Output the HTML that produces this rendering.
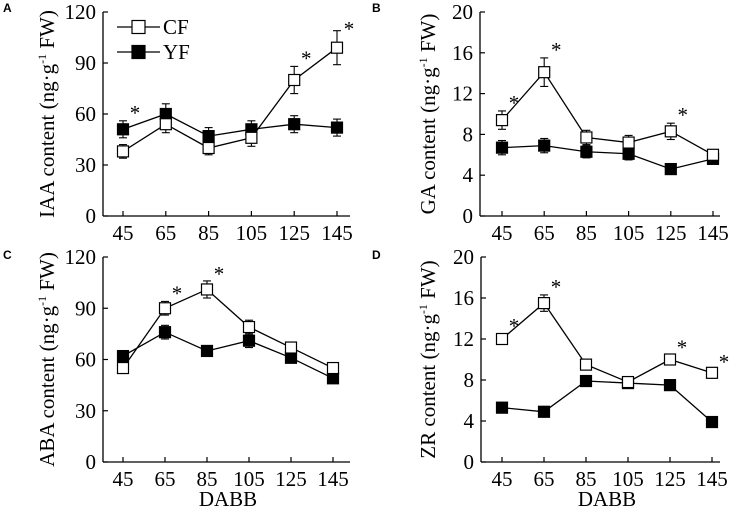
<!DOCTYPE html>
<html><head><meta charset="utf-8"><style>
html,body{margin:0;padding:0;background:#fff}
svg{display:block}
text{font-family:"Liberation Serif",serif;fill:#000}
text.plabel{font-family:"Liberation Sans",sans-serif;font-weight:bold}
</style></head><body>
<svg id="fig" width="737" height="509" viewBox="0 0 737 509"></svg>
<script>
const xCats=[45,65,85,105,125,145];
const aCF=[38,54,40,46,80,99], aCFe=[4,5,4,5,8,10];
const aYF=[51,60,47,51,54,52], aYFe=[5,6,5,5,5,5];
const bCF=[9.4,14.1,7.7,7.2,8.3,6.0], bCFe=[0.9,1.4,0.7,0.7,0.8,0.5];
const bYF=[6.7,6.9,6.3,6.1,4.6,5.6], bYFe=[0.7,0.7,0.6,0.6,0.4,0.5];
const cCF=[55,90,101,79,67,55], cCFe=[2,4,5,4,3,2];
const cYF=[62,76,65,71,61,49], cYFe=[3,4,3,4,3,2];
const dCF=[12.0,15.5,9.5,7.8,10.0,8.7], dCFe=[0.5,0.8,0.4,0.3,0.4,0.3];
const dYF=[5.3,4.9,7.9,7.7,7.5,3.9], dYFe=[0.2,0.2,0.3,0.2,0.2,0.2];
const ticksAC=[0,30,60,90,120], ticksBD=[0,4,8,12,16,20];
const starsA=[0,4,5], starsB=[0,1,4], starsC=[1,2], starsD=[0,1,4,5];
const NS='http://www.w3.org/2000/svg';
const svg=document.getElementById('fig');
function mk(tag,attrs,parent){const e=document.createElementNS(NS,tag);for(const k in attrs)e.setAttribute(k,attrs[k]);(parent||svg).appendChild(e);return e;}
const panels=[
 {id:'a',letter:'A',lx:3,ly:12,ax:103,top:12,bot:216,x0:123,x1:337,xe:350,max:120,ticks:ticksAC,cf:aCF,cfe:aCFe,yf:aYF,yfe:aYFe,stars:starsA,title:'IAA content (ng·g',tx:47,dabb:false,legend:true},
 {id:'b',letter:'B',lx:372,ly:12,ax:480,top:12,bot:216,x0:502,x1:713,xe:720,max:20,ticks:ticksBD,cf:bCF,cfe:bCFe,yf:bYF,yfe:bYFe,stars:starsB,title:'GA content (ng·g',tx:428,dabb:false},
 {id:'c',letter:'C',lx:3,ly:259,ax:103,top:257,bot:462,x0:123,x1:333,xe:350,max:120,ticks:ticksAC,cf:cCF,cfe:cCFe,yf:cYF,yfe:cYFe,stars:starsC,title:'ABA content (ng·g',tx:47,dabb:true},
 {id:'d',letter:'D',lx:372,ly:259,ax:481,top:257,bot:462,x0:502,x1:712,xe:720,max:20,ticks:ticksBD,cf:dCF,cfe:dCFe,yf:dYF,yfe:dYFe,stars:starsD,title:'ZR content (ng·g',tx:428,dabb:true}
];
panels.forEach(p=>{
 const g=mk('g',{});
 
 
 const X=i=>p.x0+(p.x1-p.x0)*i/(xCats.length-1);
 const Y=v=>p.bot-(p.bot-p.top)*v/p.max;
 const L=mk('text',{x:p.lx,y:p.ly,'class':'plabel','font-size':'12'},g);
 L.textContent=p.letter;
 
 
 const ya=mk('line',{x1:p.ax,y1:p.top,x2:p.ax,y2:p.bot,stroke:'#000','stroke-width':1.3},g);
 
 
 const xa=mk('line',{x1:p.ax,y1:p.bot,x2:p.xe,y2:p.bot,stroke:'#000','stroke-width':1.3},g);
 
 
 p.ticks.forEach(t=>{
  mk('line',{x1:p.ax,y1:Y(t),x2:p.ax+5,y2:Y(t),stroke:'#000','stroke-width':1.2},g);
  const tl=mk('text',{x:p.ax-7,y:Y(t)+7,'text-anchor':'end','font-size':'21'},g);
  tl.textContent=t;
  
  
 });
 xCats.forEach((c,i)=>{
  mk('line',{x1:X(i),y1:p.bot,x2:X(i),y2:p.bot-5,stroke:'#000','stroke-width':1.2},g);
  const tl=mk('text',{x:X(i),y:p.bot+24,'text-anchor':'middle','font-size':'21'},g);
  tl.textContent=c;
  
  
 });
 if(p.dabb){const d=mk('text',{x:(p.x0+p.x1)/2,y:p.bot+44,'text-anchor':'middle','font-size':'21'},g);d.textContent='DABB';
  
  }
 const cy=(p.top+p.bot)/2;
 const tt=mk('text',{transform:`translate(${p.tx+7},${cy}) rotate(-90)`,'text-anchor':'middle','font-size':'21'},g);
 
 
 tt.appendChild(document.createTextNode(p.title));
 const sp=mk('tspan',{dy:'-8','font-size':'12'},tt);sp.textContent='-1';
 const sp2=mk('tspan',{dy:'8'},tt);sp2.textContent=' FW)';
 [['yf',p.yf,p.yfe,'#000'],['cf',p.cf,p.cfe,'#fff']].forEach(([nm,vals,errs,fill])=>{
  const pts=vals.map((v,i)=>X(i)+','+Y(v)).join(' ');
  const pl=mk('polyline',{points:pts,fill:'none',stroke:'#000','stroke-width':1.3},g);
  
  
  vals.forEach((v,i)=>{
   const x=X(i),yh=Y(v+errs[i]),yl=Y(v-errs[i]);
   mk('line',{x1:x,y1:yh,x2:x,y2:yl,stroke:'#000','stroke-width':1.1},g);
   mk('line',{x1:x-4,y1:yh,x2:x+4,y2:yh,stroke:'#000','stroke-width':1.1},g);
   mk('line',{x1:x-4,y1:yl,x2:x+4,y2:yl,stroke:'#000','stroke-width':1.1},g);
   const r=mk('rect',{x:x-5.5,y:Y(v)-5.5,width:11,height:11,fill:fill,stroke:'#000','stroke-width':1.2},g);
   
   
  });
 });
 p.stars.forEach(i=>{
  const top=Math.min(Y(p.cf[i]+p.cfe[i]),Y(p.yf[i]+p.yfe[i]));
  const base=Math.max(top-1,p.top+24);
  const s=mk('text',{x:X(i)+12,y:base,'text-anchor':'middle','font-size':'21'},g);
  s.textContent='*';
  
  
 });
 if(p.legend){
  [['CF','#fff',27],['YF','#000',52]].forEach(([lab,fill,y])=>{
   const lg=mk('g',{},g);
   
   
   mk('line',{x1:117,y1:y,x2:160,y2:y,stroke:'#000','stroke-width':1.3},lg);
   mk('rect',{x:132,y:y-6.5,width:13,height:13,fill:fill,stroke:'#000','stroke-width':1.2},lg);
   const t=mk('text',{x:163,y:y+7,'font-size':'21'},lg);t.textContent=lab;
  });
 }
});
</script>
</body></html>
